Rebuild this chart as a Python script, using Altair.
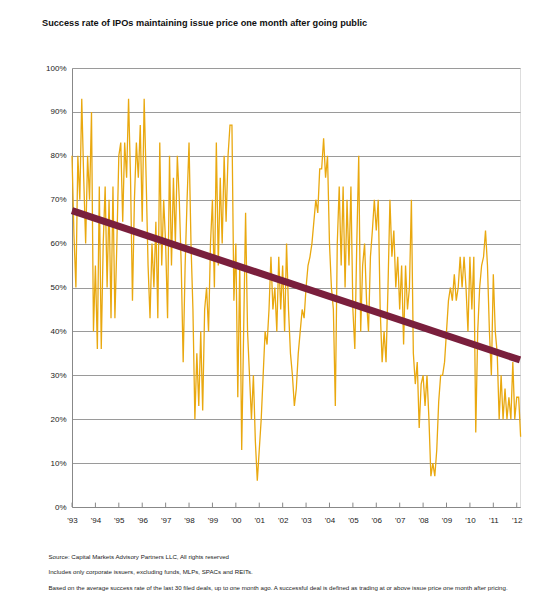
import altair as alt
import pandas as pd

START_YEAR = 1993
# Monthly success rate (%), Jan 1993 onward
success_rate = [
    80, 62, 50, 80, 70, 93, 75, 60, 80, 70, 90, 40,
    55, 36, 73, 36, 60, 73, 50, 70, 43, 73, 43, 60,
    80, 83, 65, 83, 75, 93, 75, 47, 70, 83, 75, 87,
    65, 93, 75, 55, 43, 60, 50, 65, 43, 83, 55, 70,
    60, 43, 80, 55, 75, 60, 80, 70, 55, 33, 55, 70,
    83, 60, 45, 20, 35, 23, 40, 22, 45, 50, 40, 60,
    70, 50, 83, 55, 75, 60, 80, 65, 80, 87, 87, 47,
    60, 25, 55, 13, 40, 67, 40, 30, 20, 30, 15, 6,
    13, 20, 30, 40, 37, 45, 57, 45, 50, 40, 57, 45,
    55, 40, 60, 45, 35, 30, 23, 27, 35, 40, 45, 43,
    50, 55, 57, 60, 65, 70, 67, 77, 77, 84, 75, 80,
    60, 50, 45, 23, 60, 73, 55, 73, 50, 70, 55, 73,
    45, 36, 60, 80, 40, 55, 60, 47, 40, 57, 63, 70,
    63, 70, 45, 33, 40, 33, 50, 70, 57, 63, 50, 57,
    45, 55, 37, 55, 45, 50, 70, 35, 28, 33, 18, 28,
    30, 23, 30, 20, 7, 10, 7, 13, 24, 30, 30, 33,
    40, 47, 50, 47, 53, 47, 50, 57, 50, 57, 50, 40,
    57, 45, 57, 17, 40, 50, 55, 57, 63, 55, 40, 30,
    53, 40, 35, 20, 30, 20, 27, 20, 25, 20, 33, 20,
    25, 25, 16,
]
trend_years = [1993.0, 2012.14]
trend_values = [67.5, 33.5]
tick_years = list(range(1993, 2013))
y_ticks = list(range(0, 101, 10))

TITLE = "Success rate of IPOs maintaining issue price one month after going public"
FOOTNOTES = [
    "Source: Capital Markets Advisory Partners LLC, All rights reserved",
    "Includes only corporate  issuers, excluding funds, MLPs, SPACs and REITs.",
    "Based on the average success rate of the last 30 filed deals, up to one month ago.  A successful deal is defined as trading at or above issue price one month after pricing.",
]

FONT = "Liberation Sans, Arial, sans-serif"

series = pd.DataFrame({
    "year": [START_YEAR + i / 12 for i in range(len(success_rate))],
    "rate": success_rate,
})
trend = pd.DataFrame({"year": trend_years, "rate": trend_values})
ticks = pd.DataFrame({"year": tick_years, "rate": [0] * len(tick_years), "hi": [1] * len(tick_years)})

xscale = alt.Scale(domain=[1993, 2012.14], nice=False, zero=False)
yscale = alt.Scale(domain=[0, 100], nice=False)

xaxis = alt.Axis(
    values=tick_years, tickCount=20, ticks=False, grid=False, labelPadding=9,
    labelExpr="\"'\" + substring(toString(datum.value), 2, 4)",
    labelFont=FONT, labelFontSize=8, labelColor="#222",
    domainColor="#888", labelFlush=False, labelOverlap=False,
    title=FOOTNOTES, titleFont=FONT, titleFontSize=6.15, titleFontWeight="normal",
    titleColor="#222", titleAlign="left", titleAnchor="start", titleBaseline="top",
    titleX=-24, titleY=46, titleLineHeight=15.5,
)
yaxis = alt.Axis(
    values=y_ticks, ticks=False, labelPadding=6,
    labelExpr="datum.value + '%'", labelFont=FONT, labelFontSize=8,
    labelColor="#222", gridColor="#9a9a9a", gridWidth=1, domainColor="#888",
    title=None,
)

x_enc = alt.X("year:Q", scale=xscale, axis=xaxis)
y_enc = alt.Y("rate:Q", scale=yscale, axis=yaxis)

line = alt.Chart(series).mark_line(color="#E9A80F", strokeWidth=1.3).encode(x=x_enc, y=y_enc)

trend_line = alt.Chart(trend).mark_line(color="#7A1F3D", strokeWidth=7, strokeCap="butt").encode(
    x=x_enc, y=y_enc,
)

tick_marks = alt.Chart(ticks).mark_rule(color="#888", strokeWidth=1).encode(
    x=x_enc, y=y_enc, y2="hi:Q",
)

chart = alt.layer(line, trend_line, tick_marks).properties(
    width=448, height=439,
    autosize=alt.AutoSizeParams(type="none"),
    padding={"left": 64, "top": 60, "right": 20, "bottom": 97},
    title=alt.TitleParams(
        TITLE, anchor="start", frame="group", font=FONT, fontSize=9.2,
        fontWeight="bold", color="#111", dx=-30, offset=36,
    ),
).configure_view(stroke="#888", strokeWidth=1).configure_axisX(labelOverlap=False).configure(background="white")

chart.save("out.html", embed_options={"renderer": "svg", "actions": False})
